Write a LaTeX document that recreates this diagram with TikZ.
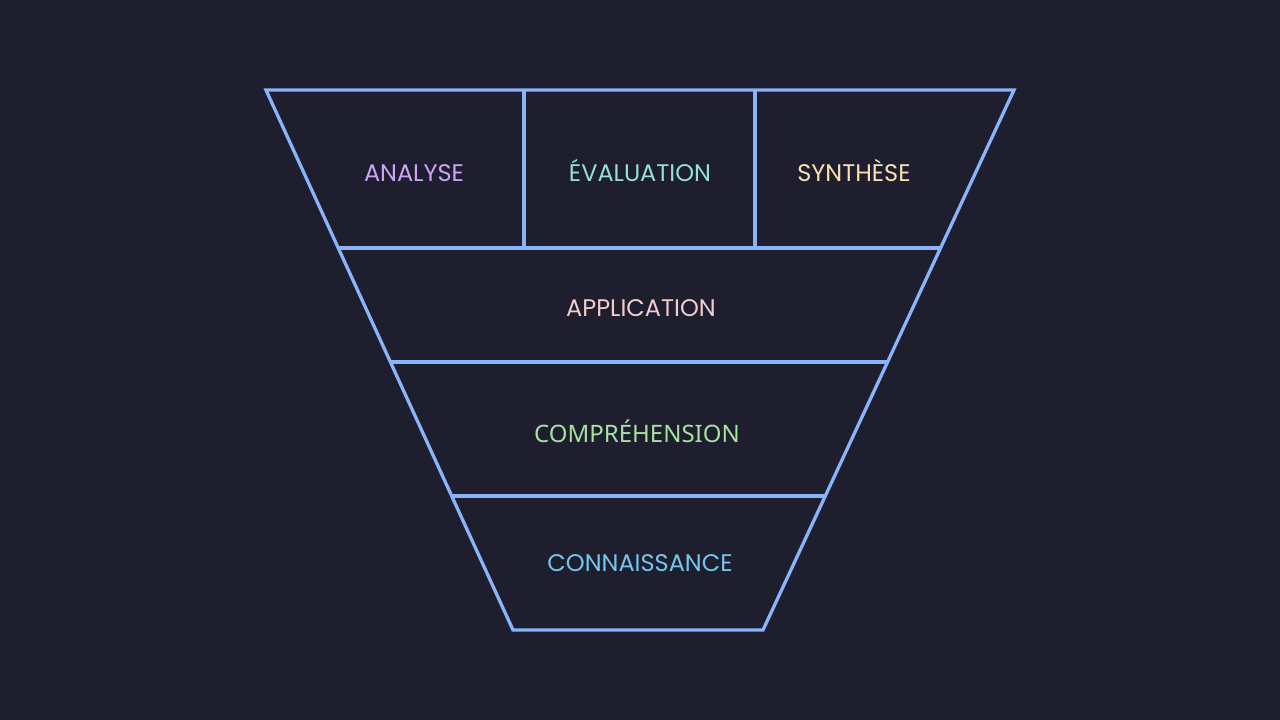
\documentclass[tikz,border=0pt]{standalone}
\usepackage{fontspec}
\setmainfont{Poppins}
\newfontfamily\notosans{Noto Sans}
\definecolor{bgbase}{HTML}{1E1E2E}
\definecolor{edgeblue}{HTML}{89B4FA}
\definecolor{cmauve}{HTML}{CBA6F7}
\definecolor{cteal}{HTML}{94E2D5}
\definecolor{cyellow}{HTML}{F9E2AF}
\definecolor{cflamingo}{HTML}{F2CDCD}
\definecolor{cgreen}{HTML}{A6E3A1}
\definecolor{csapphire}{HTML}{74C7EC}
\tikzset{
  edge/.style={draw=edgeblue, line width=3.3pt, line join=miter},
  lbl/.style={font=\fontsize{24}{28}\selectfont, inner sep=0pt, anchor=base}
}
\begin{document}
\begin{tikzpicture}[x=1pt,y=-1pt]
\fill[bgbase] (0,0) rectangle (1280,720);
\useasboundingbox (0,0) rectangle (1280,720);
% funnel outline
\coordinate (tl) at (266,90);
\coordinate (tr) at (1014,90);
\coordinate (bl) at (513,630);
\coordinate (br) at (763,630);
\draw[edge] (tl) -- (tr) -- (br) -- (bl) -- cycle;
% horizontal dividers
\coordinate (a1) at (339,248); \coordinate (a2) at (940,248);
\coordinate (b1) at (391,362); \coordinate (b2) at (887,362);
\coordinate (c1) at (453,496); \coordinate (c2) at (825,496);
\draw[edge] (a1) -- (a2);
\draw[edge] (b1) -- (b2);
\draw[edge] (c1) -- (c2);
% vertical dividers
\coordinate (v1t) at (524,90); \coordinate (v1b) at (524,248);
\coordinate (v2t) at (755,90); \coordinate (v2b) at (755,248);
\draw[edge] (v1t) -- (v1b);
\draw[edge] (v2t) -- (v2b);
% labels
\node[lbl, text=cmauve] (analyse) at (414,181) {ANALYSE};
\node[lbl, text=cteal] (evaluation) at (640,181) {ÉVALUATION};
\node[lbl, text=cyellow] (synthese) at (854,181) {SYNTHÈSE};
\node[lbl, text=cflamingo] (application) at (641,316.5) {APPLICATION};
\node[lbl, text=cgreen, font=\notosans\fontsize{24}{28}\selectfont] (comprehension) at (637,442.5) {COMPRÉHENSION};
\node[lbl, text=csapphire] (connaissance) at (640,571) {CONNAISSANCE};
\end{tikzpicture}
\end{document}
